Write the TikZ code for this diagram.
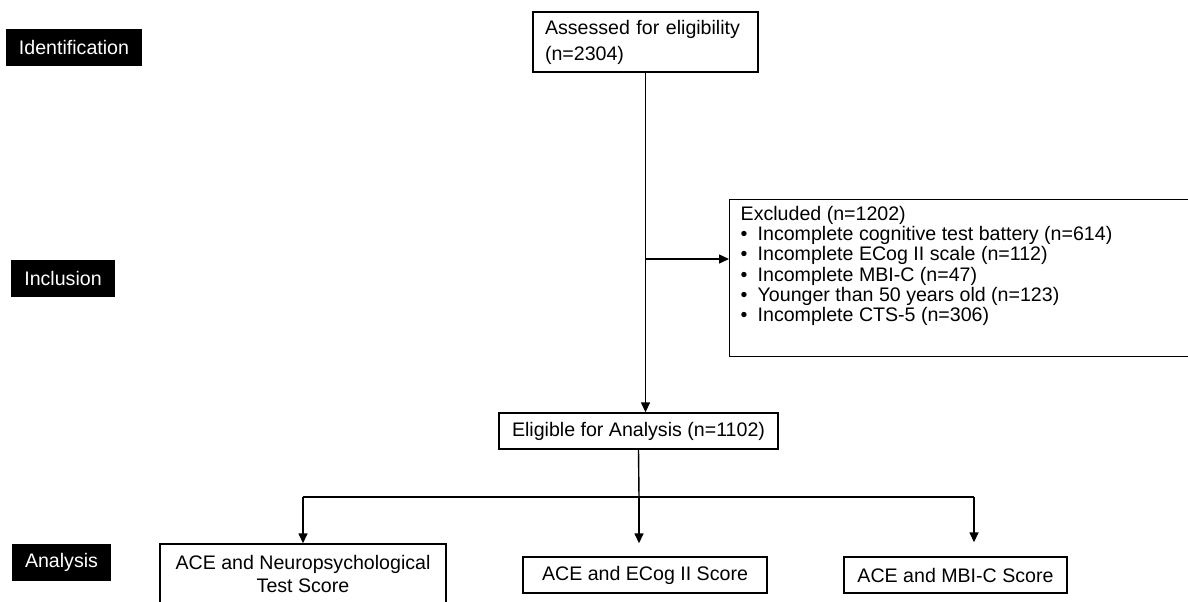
\documentclass[tikz,border=0pt]{standalone}
\usepackage{fontspec}
\setmainfont{Liberation Sans}
\usetikzlibrary{arrows.meta}

\tikzset{
  box/.style={draw,line width=0.7pt,inner sep=0pt,minimum height=18pt},
  tag/.style={fill=black,text=white,inner xsep=6.5pt,inner ysep=0pt,minimum height=18.5pt},
  arr/.style={-{Triangle[length=5pt,width=4.5pt]},line width=0.7pt},
}
\newcommand{\exitem}{\makebox[8.5pt][l]{\textbullet}}

\begin{document}
\begin{tikzpicture}[x=0.5pt,y=-0.5pt,font=\fontsize{9.8}{13}\selectfont]
\useasboundingbox (0,0) rectangle (1188,601);
\clip (0,0) rectangle (1188,601);

% stage labels
\node [tag] (ident) at (74,47.5) {Identification};
\node [tag] (incl) at (63,278) {Inclusion};
\node [tag] (anal) at (61.5,562.5) {Analysis};

% flow boxes
\node [box,text width=100.5pt,inner xsep=6pt,align=left,minimum height=30pt]
    (assess) at (645.5,42) {Assessed for eligibility\\(n=2304)};
\node [box,anchor=north west,inner xsep=5.5pt,inner ysep=0pt] (excl) at (729,199)
    {\parbox[c][78.5pt][t]{230pt}{\fontsize{9.8}{10.1}\selectfont\vspace*{3.3pt}%
    Excluded (n=1202)\\
    \exitem Incomplete cognitive test battery (n=614)\\
    \exitem Incomplete ECog II scale (n=112)\\
    \exitem Incomplete MBI-C (n=47)\\
    \exitem Younger than 50 years old (n=123)\\
    \exitem Incomplete CTS-5 (n=306)}};
\node [box,minimum width=139.5pt] (elig) at (638.5,431) {Eligible for Analysis (n=1102)};
\node [box,minimum width=143pt,minimum height=30pt,align=center,
    font=\fontsize{9.8}{11.5}\selectfont] (neuro) at (303,574)
    {ACE and Neuropsychological\\Test Score};
\node [box,minimum width=122pt] (ecog) at (645,575) {ACE and ECog II Score};
\node [box,minimum width=111.5pt] (mbi) at (955.5,575) {ACE and MBI-C Score};

% connectors
\coordinate (split) at (645,259);
\coordinate (fork) at (639,497);
\coordinate (rfork) at (974,497);
\draw [arr] (assess.south) -- (assess.south |- elig.north);
\draw [arr] (split) -- (split -| excl.west);
\draw [line width=0.7pt] (elig.south) -- (fork);
\draw [line width=0.7pt] (neuro.north |- fork) -- (rfork);
\draw [arr] (neuro.north |- fork) -- (neuro.north);
\draw [arr,shorten >=6.5pt] (fork) -- (fork |- ecog.north);
\draw [arr,shorten >=7pt] (rfork) -- (rfork |- mbi.north);
\end{tikzpicture}
\end{document}
